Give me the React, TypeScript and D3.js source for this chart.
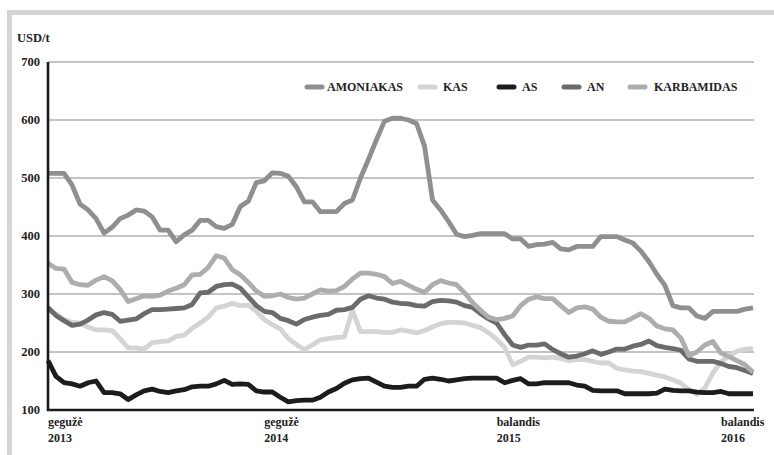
import React from "react";
import * as d3 from "d3";

const W = 774;
const H = 455;

const yTicks = [100, 200, 300, 400, 500, 600, 700];
const xLabelIdx = [0, 27, 56, 84];
const xLabelTop = ["gegužė", "gegužė", "balandis", "balandis"];
const xLabelBottom = ["2013", "2014", "2015", "2016"];

const seriesNames = ["AMONIAKAS", "KAS", "AS", "AN", "KARBAMIDAS"];
const seriesColors = ["#8f8f8f", "#d4d4d4", "#1c1c1c", "#6b6b6b", "#adadad"];

const amoniakas = [
  508, 508, 508, 488, 455, 445, 430, 405, 415, 430, 436, 445, 443, 433, 410, 410, 390, 402, 410, 427,
  427, 416, 413, 420, 451, 460, 492, 495, 509, 508, 503, 485, 459, 459, 442, 442, 442, 456, 462, 500,
  532, 566, 598, 603, 603, 600, 594, 555, 462, 445, 425, 403, 399, 401, 404, 404, 404, 404, 395, 395,
  382, 385, 386, 389, 378, 376, 382, 382, 382, 399, 399, 399, 393, 388, 374, 356, 334, 315, 280, 276,
  276, 262, 258, 270, 270, 270, 270, 274, 276,
];
const kas = [
  271, 266, 256, 251, 250, 243, 238, 238, 237, 223, 207, 207, 205, 216, 218, 219, 227, 229, 241, 250,
  260, 276, 279, 284, 280, 281, 270, 256, 247, 240, 223, 213, 204, 212, 221, 223, 225, 226, 272, 235,
  235, 235, 234, 234, 238, 236, 233, 237, 243, 249, 251, 251, 250, 246, 242, 233, 222, 208, 178, 184,
  191, 191, 190, 191, 189, 185, 187, 187, 184, 181, 181, 172, 169, 167, 166, 163, 160, 157, 152, 146,
  135, 127, 138, 164, 183, 193, 201, 205, 206,
];
const asValues = [
  185, 158, 147, 145, 141, 147, 150, 130, 130, 128, 118, 126, 133, 136, 132, 130, 133, 135, 140, 141,
  141, 145, 151, 144, 145, 144, 133, 131, 131, 122, 114, 116, 117, 117, 122, 131, 137, 146, 152, 154,
  155, 148, 141, 139, 139, 141, 141, 153, 155, 153, 150, 152, 154, 155, 155, 155, 155, 147, 151, 154,
  145, 145, 147, 147, 147, 147, 143, 141, 134, 133, 133, 133, 128, 128, 128, 128, 129, 136, 134, 133,
  133, 131, 130, 130, 132, 128, 128, 128, 128,
];
const an = [
  277, 263, 254, 246, 248, 255, 264, 268, 265, 253, 255, 257, 266, 273, 273, 274, 275, 276, 282, 302,
  303, 313, 316, 317, 310, 295, 280, 270, 268, 258, 254, 248, 256, 260, 263, 265, 272, 273, 277, 291,
  297, 293, 291, 286, 284, 283, 280, 279, 287, 289, 288, 286, 280, 277, 266, 257, 250, 230, 212, 208,
  212, 212, 214, 204, 197, 191, 193, 197, 202, 196, 200, 205, 205, 210, 213, 219, 211, 208, 206, 203,
  188, 184, 184, 184, 180, 175, 173, 168, 163,
];
const karbamidas = [
  353, 344, 343, 320, 316, 315, 324, 330, 323, 308, 287, 292, 297, 296, 298, 305, 310, 316, 333, 334,
  346, 366, 362, 342, 333, 320, 305, 296, 297, 300, 294, 291, 293, 300, 307, 305, 306, 313, 326, 336,
  336, 334, 330, 318, 322, 315, 308, 303, 316, 323, 319, 316, 302, 285, 272, 260, 256, 258, 262, 280,
  291, 295, 292, 292, 280, 268, 276, 278, 274, 260, 253, 252, 252, 259, 266, 258, 245, 240, 238, 224,
  194, 200, 212, 218, 198, 192, 185, 178, 165,
];

const seriesData = [amoniakas, kas, asValues, an, karbamidas];

const legendSwatchX = [305, 418, 497, 562, 628];
const legendTextX = [327, 443, 522, 587, 654];

const FONT = "Liberation Serif, Times New Roman, serif";

export default function App() {
  const left = 48;
  const right = 753;
  const top = 62;
  const bottom = 410;
  const n = amoniakas.length;

  const x = d3.scaleLinear().domain([0, n - 1]).range([left, right]);
  const y = d3.scaleLinear().domain([100, 700]).range([bottom, top]);

  const line = d3
    .line<number>()
    .x((_, i) => x(i))
    .y((d) => y(d))
    .curve(d3.curveLinear);

  return (
    <div style={{ position: "absolute", left: 0, top: 0, width: W, height: H, background: "#fff" }}>
      <svg width={W} height={H} style={{ display: "block" }}>
        <rect x={0} y={0} width={W} height={H} fill="#fff" />
        {/* frame */}
        <rect x={9.5} y={12.5} width={W + 20} height={H + 20} fill="none" stroke="#d5d5d5" strokeWidth={5} />

        {/* grid */}
        {yTicks.map((t) =>
          t === 100 ? null : (
            <line key={t} x1={left} x2={right + 1} y1={y(t)} y2={y(t)} stroke="#8a8a8a" strokeWidth={1.2} />
          )
        )}

        {/* y tick labels */}
        {yTicks.map((t) => (
          <text
            key={"l" + t}
            x={40}
            y={y(t) + 4}
            textAnchor="end"
            fontFamily={FONT}
            fontWeight="bold"
            fontSize={12.5}
            fill="#222"
          >
            {t}
          </text>
        ))}
        <text x={17} y={42} fontFamily={FONT} fontWeight="bold" fontSize={12.5} fill="#222">
          USD/t
        </text>

        {/* series */}
        {seriesData.map((d, k) => (
          <path
            key={seriesNames[k]}
            d={line(d) || ""}
            fill="none"
            stroke={seriesColors[k]}
            strokeWidth={4.8}
            strokeLinejoin="round"
            strokeLinecap="butt"
          />
        ))}

        {/* axes */}
        <line x1={left} x2={left} y1={top} y2={bottom + 1} stroke="#1a1a1a" strokeWidth={2.6} />
        <line x1={left - 1} x2={right + 1} y1={bottom} y2={bottom} stroke="#1a1a1a" strokeWidth={2.6} />

        {/* x labels */}
        {xLabelIdx.map((idx, k) => (
          <g key={"x" + k}>
            <text x={x(idx)} y={426} fontFamily={FONT} fontWeight="bold" fontSize={12} fill="#222">
              {xLabelTop[k]}
            </text>
            <text x={x(idx)} y={442} fontFamily={FONT} fontWeight="bold" fontSize={12} fill="#222">
              {xLabelBottom[k]}
            </text>
          </g>
        ))}

        {/* legend */}
        {seriesNames.map((name, k) => (
          <g key={"lg" + name}>
            <line
              x1={legendSwatchX[k] + 2}
              x2={legendSwatchX[k] + 17}
              y1={87}
              y2={87}
              stroke={seriesColors[k]}
              strokeWidth={5}
              strokeLinecap="round"
            />
            <text x={legendTextX[k]} y={91} fontFamily={FONT} fontWeight="bold" fontSize={12} fill="#222">
              {name}
            </text>
          </g>
        ))}
      </svg>
    </div>
  );
}
